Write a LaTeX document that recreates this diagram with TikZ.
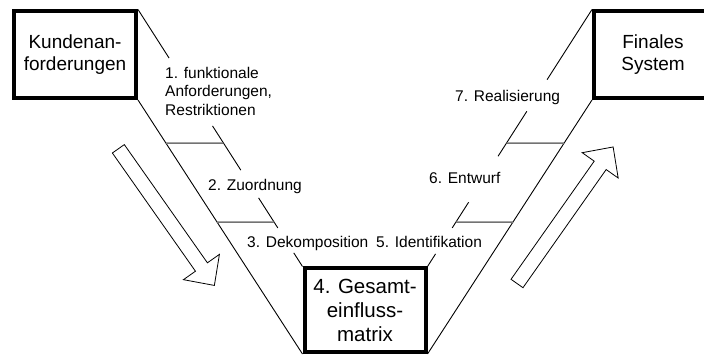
\documentclass[tikz,border=0pt]{standalone}
\usepackage{fontspec}
\setmainfont{Liberation Sans}
\usetikzlibrary{calc}
\definecolor{tickgray}{gray}{0.45}
\begin{document}
\begin{tikzpicture}[x=1pt,y=-1pt,
  bigbox/.style={draw, line width=4pt, inner sep=0pt, align=center, font=\fontsize{19}{22}\selectfont},
  lbl/.style={inner sep=0pt, font=\fontsize{15.5}{18.5}\selectfont},
  vline/.style={line width=0.9pt},
  tickline/.style={draw=tickgray, line width=1.5pt},
  bigarrow/.style={draw, fill=white, line width=0.8pt, line join=miter}]
\useasboundingbox (0,0) rectangle (704,355);

% boxes
\node[bigbox, minimum width=122pt, minimum height=86.5pt] (L) at (75,54.75) {Kundenan-\\forderungen};
\node[bigbox, minimum width=118pt, minimum height=86.5pt] (R) at (653,54.75) {Finales\\System};
\node[bigbox, minimum width=121pt, minimum height=83.5pt, font=\fontsize{20.5}{24}\selectfont] (M) at (365,310.25) {4. Gesamt-\\einfluss-\\matrix};

% outer lines
\draw[vline] (L.south east) -- (M.south west);
\draw[vline] (M.south east) -- (R.south west);

% inner broken lines
\draw[vline] (L.north east) -- ($(L.north east)!0.189!(M.north west)$)
  ($(L.north east)!0.453!(M.north west)$) -- ($(L.north east)!0.625!(M.north west)$)
  ($(L.north east)!0.733!(M.north west)$) -- ($(L.north east)!0.850!(M.north west)$)
  ($(L.north east)!0.947!(M.north west)$) -- (M.north west);
\draw[vline] (M.north east) -- ($(M.north east)!0.049!(R.north west)$)
  ($(M.north east)!0.150!(R.north west)$) -- ($(M.north east)!0.250!(R.north west)$)
  ($(M.north east)!0.429!(R.north west)$) -- ($(M.north east)!0.604!(R.north west)$)
  ($(M.north east)!0.727!(R.north west)$) -- (R.north west);

% horizontal ticks
\coordinate (h1a) at (0,143);
\coordinate (h1b) at (10,143);
\coordinate (h2a) at (0,222);
\coordinate (h2b) at (10,222);
\draw[tickline] (intersection of L.south east--M.south west and h1a--h1b) -- (intersection of L.north east--M.north west and h1a--h1b);
\draw[tickline] (intersection of L.south east--M.south west and h2a--h2b) -- (intersection of L.north east--M.north west and h2a--h2b);
\draw[tickline] (intersection of M.north east--R.north west and h1a--h1b) -- (intersection of M.south east--R.south west and h1a--h1b);
\draw[tickline] (intersection of M.north east--R.north west and h2a--h2b) -- (intersection of M.south east--R.south west and h2a--h2b);

% labels
\node[lbl, anchor=north west, align=left] (l1) at (165,67) {1. funktionale\\Anforderungen,\\Restriktionen};
\node[lbl, anchor=base west] (l2) at (208,191) {2. Zuordnung};
\node[lbl, anchor=base west] (l3) at (247,248) {3. Dekomposition};
\node[lbl, anchor=base west] (l5) at (376,248) {5. Identifikation};
\node[lbl, anchor=base west] (l6) at (429,184) {6. Entwurf};
\node[lbl, anchor=base west] (l7) at (455,102) {7. Realisierung};

% big hollow arrows
\begin{scope}[shift={(118.35,148.8)}, rotate=-54.9]
  \draw[bigarrow] (0,7.3) -- (144.5,7.3) -- (144.5,22) -- (167,0) -- (144.5,-22) -- (144.5,-7.3) -- (0,-7.3) -- cycle;
\end{scope}
\begin{scope}[shift={(517,283.5)}, rotate=54.85]
  \draw[bigarrow] (0,7.3) -- (144.5,7.3) -- (144.5,22) -- (167,0) -- (144.5,-22) -- (144.5,-7.3) -- (0,-7.3) -- cycle;
\end{scope}
\end{tikzpicture}
\end{document}
